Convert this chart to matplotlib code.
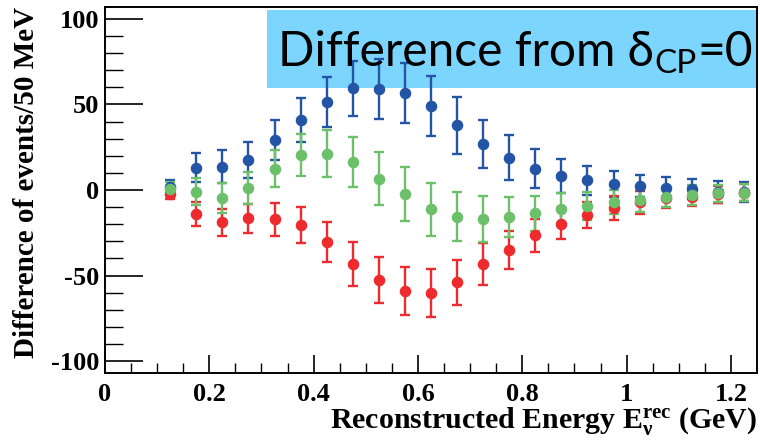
import numpy as np
import matplotlib
matplotlib.use("Agg")
import matplotlib.pyplot as plt
from matplotlib.patches import Rectangle

# ---- data ----
energy = [0.125, 0.175, 0.225, 0.275, 0.325, 0.375, 0.425, 0.475, 0.525, 0.575, 0.625,
          0.675, 0.725, 0.775, 0.825, 0.875, 0.925, 0.975, 1.025, 1.075, 1.125, 1.175, 1.225]

blue_val = [2.0, 13.1, 13.7, 17.6, 29.4, 41.0, 51.6, 59.4, 59.2, 56.7, 49.0,
            37.8, 26.9, 19.0, 12.5, 8.4, 5.7, 3.5, 2.4, 1.0, 0.4, -1.0, -1.0]
blue_err = [4.0, 8.4, 9.8, 10.4, 11.6, 12.7, 14.7, 16.3, 17.6, 17.5, 17.6,
            16.7, 14.3, 13.1, 11.4, 10.0, 8.4, 7.8, 6.5, 6.5, 5.9, 6.5, 5.9]

green_val = [0.4, -1.0, -4.9, 1.4, 12.5, 20.6, 21.2, 16.5, 6.7, -2.4, -11.4,
             -15.7, -16.9, -15.7, -13.7, -11.4, -9.2, -6.9, -5.9, -3.9, -2.9, -2.0, -1.6]
green_err = [4.0, 7.8, 8.8, 9.4, 11.0, 12.4, 13.7, 14.5, 15.3, 15.7, 15.3,
             14.3, 13.5, 11.8, 10.4, 9.4, 8.2, 6.9, 6.9, 5.9, 5.7, 4.9, 5.0]

red_val = [-2.4, -14.1, -19.0, -16.5, -17.1, -20.6, -30.6, -43.1, -52.5, -59.2, -60.4,
           -53.9, -43.3, -34.9, -26.5, -19.6, -14.7, -10.4, -7.3, -4.9, -3.9, -2.4, -1.6]
red_err = [3.0, 6.9, 8.0, 8.5, 9.6, 10.5, 11.7, 12.9, 13.4, 14.0, 14.0,
           13.2, 12.2, 11.0, 9.8, 8.8, 7.6, 6.9, 6.5, 5.9, 5.5, 5.0, 5.0]

xticks = [0, 0.2, 0.4, 0.6, 0.8, 1.0, 1.2]
xticklabels = ["0", "0.2", "0.4", "0.6", "0.8", "1", "1.2"]
yticks = [-100, -50, 0, 50, 100]
yticklabels = ["-100", "-50", "0", "50", "100"]

title_main = "Difference from \u03b4"
title_sub = "CP"
title_end = "=0"
xlabel = r"Reconstructed Energy $\mathbf{E}_{\nu}^{\mathbf{rec}}$ (GeV)"
ylabel = "Difference of events/50 MeV"

# ---- style ----
plt.rcParams['mathtext.fontset'] = 'custom'
plt.rcParams['mathtext.rm'] = 'Liberation Serif:bold'
plt.rcParams['mathtext.it'] = 'Liberation Serif:bold'
plt.rcParams['mathtext.bf'] = 'Liberation Serif:bold'

serif = dict(family='Liberation Serif', weight='bold')

fig = plt.figure(figsize=(7.6, 4.48), dpi=100)
ax = fig.add_axes([105/760, 75/448, 652/760, 366/448])

series = [
    (blue_val, blue_err, '#2454a6'),
    (red_val, red_err, '#ee2a2e'),
    (green_val, green_err, '#6cc06a'),
]
for vals, errs, col in series:
    ax.errorbar(energy, vals, yerr=errs, fmt='o', color=col, ecolor=col,
                markersize=7.3, elinewidth=1.7, capsize=3.5, capthick=1.7, zorder=3)

ax.set_xlim(0, 1.25)
ax.set_ylim(-107, 107)
ax.set_xticks(xticks)
ax.set_xticklabels(xticklabels, fontdict=serif, fontsize=19)
ax.set_yticks(yticks)
ax.set_yticklabels(yticklabels, fontdict=serif, fontsize=19)
ax.set_xticks(np.arange(0.05, 1.25, 0.05), minor=True)
ax.set_yticks(np.arange(-100, 101, 10), minor=True)
ax.tick_params(axis='x', which='major', direction='in', length=13, width=1.2, pad=7)
ax.tick_params(axis='x', which='minor', direction='in', length=7, width=1.0)
ax.tick_params(axis='y', which='major', direction='in', length=27, width=1.2, pad=4)
ax.tick_params(axis='y', which='minor', direction='in', length=13, width=1.0)
for s in ax.spines.values():
    s.set_linewidth(1.4)

ax.set_xlabel(xlabel, fontdict=serif, fontsize=21.5, loc='right', labelpad=0)
ax.set_ylabel(ylabel, fontdict=serif, fontsize=21, loc='top')
ax.yaxis.set_label_coords((40 - 105) / 652, 1.0)

# title box
box = Rectangle((0.248, 0.779), 0.752, 0.213, transform=ax.transAxes,
                facecolor='#7bd5fc', edgecolor='none', zorder=1)
ax.add_patch(box)
fig.canvas.draw()
r = fig.canvas.get_renderer()
tfam = ['Lato', 'Open Sans', 'DejaVu Sans']
t1 = fig.text(278/760, 1 - 66/448, title_main, family=tfam, fontsize=34.5,
              va='baseline', ha='left', zorder=2)
bb = t1.get_window_extent(r)
t2 = fig.text(bb.x1/760 + 0.001, 1 - 73/448, title_sub, family=tfam, fontsize=24,
              va='baseline', ha='left', zorder=2)
bb2 = t2.get_window_extent(r)
t3 = fig.text(bb2.x1/760, 1 - 66/448, title_end, family=tfam, fontsize=34.5,
              va='baseline', ha='left', zorder=2)

fig.savefig('out.png', dpi=100)
